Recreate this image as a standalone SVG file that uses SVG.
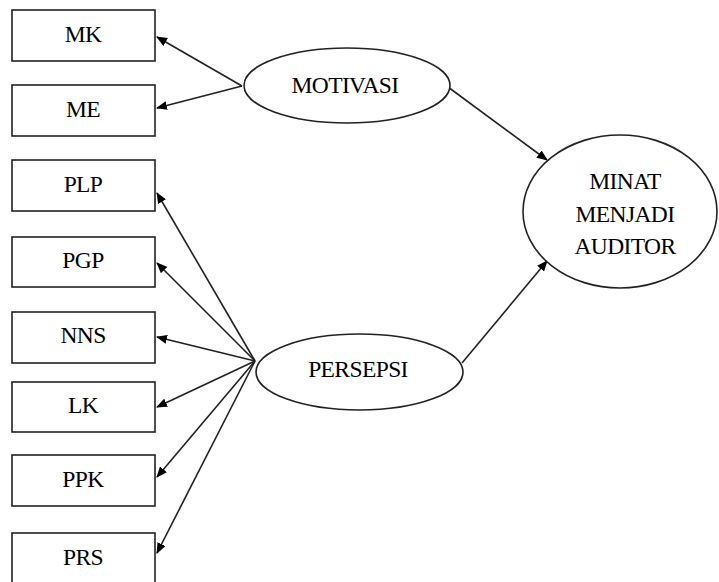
<svg xmlns="http://www.w3.org/2000/svg" width="719" height="582" viewBox="0 0 719 582">
<defs>
<style>
.box{fill:#fff;stroke:#222;stroke-width:1.6}
.ell{fill:#fff;stroke:#222;stroke-width:1.6}
.lbl{font-family:"Liberation Serif","Times New Roman",serif;font-size:23.5px;fill:#000;text-anchor:middle;letter-spacing:-0.6px}
.con{stroke:#222;stroke-width:1.6;fill:none;marker-end:url(#ah)}
</style>
<marker id="ah" markerWidth="11" markerHeight="9" refX="10" refY="4.5" orient="auto" markerUnits="userSpaceOnUse">
<path d="M0,0 L11,4.5 L0,9 Z" fill="#000"/>
</marker>
</defs>
<rect width="719" height="582" fill="#fff"/>
<g id="connectors">
<line class="con" x1="242" y1="86" x2="157" y2="37"/>
<line class="con" x1="242" y1="86" x2="157" y2="108"/>
<line class="con" x1="448" y1="87" x2="547" y2="160"/>
<line class="con" x1="462" y1="363" x2="547" y2="261"/>
<line class="con" x1="255" y1="361" x2="157" y2="193"/>
<line class="con" x1="255" y1="361" x2="157" y2="263"/>
<line class="con" x1="255" y1="361" x2="157" y2="337"/>
<line class="con" x1="255" y1="361" x2="157" y2="407"/>
<line class="con" x1="255" y1="361" x2="157" y2="477"/>
<line class="con" x1="255" y1="361" x2="157" y2="553"/>
</g>
<g id="MK"><rect class="box" x="12" y="10" width="143" height="51"/><text class="lbl" x="83" y="42">MK</text></g>
<g id="ME"><rect class="box" x="12" y="85" width="143" height="51"/><text class="lbl" x="83" y="117">ME</text></g>
<g id="PLP"><rect class="box" x="12" y="160" width="143" height="51"/><text class="lbl" x="83" y="192">PLP</text></g>
<g id="PGP"><rect class="box" x="12" y="237" width="143" height="50"/><text class="lbl" x="83" y="268">PGP</text></g>
<g id="NNS"><rect class="box" x="12" y="312" width="143" height="51"/><text class="lbl" x="83" y="343">NNS</text></g>
<g id="LK"><rect class="box" x="12" y="382" width="143" height="50"/><text class="lbl" x="83" y="413">LK</text></g>
<g id="PPK"><rect class="box" x="12" y="455" width="143" height="51"/><text class="lbl" x="83" y="487">PPK</text></g>
<g id="PRS"><rect class="box" x="12" y="533" width="143" height="60"/><text class="lbl" x="83" y="565">PRS</text></g>
<g id="MOTIVASI"><ellipse class="ell" cx="347" cy="85.5" rx="103" ry="37.5"/><text class="lbl" x="345" y="93">MOTIVASI</text></g>
<g id="PERSEPSI"><ellipse class="ell" cx="359.5" cy="372" rx="103.5" ry="38"/><text class="lbl" x="358" y="377">PERSEPSI</text></g>
<g id="MINAT"><ellipse class="ell" cx="620" cy="211.5" rx="97" ry="76.5"/><text class="lbl" x="625" y="189">MINAT</text><text class="lbl" x="625" y="222">MENJADI</text><text class="lbl" x="625" y="254">AUDITOR</text></g>
</svg>
